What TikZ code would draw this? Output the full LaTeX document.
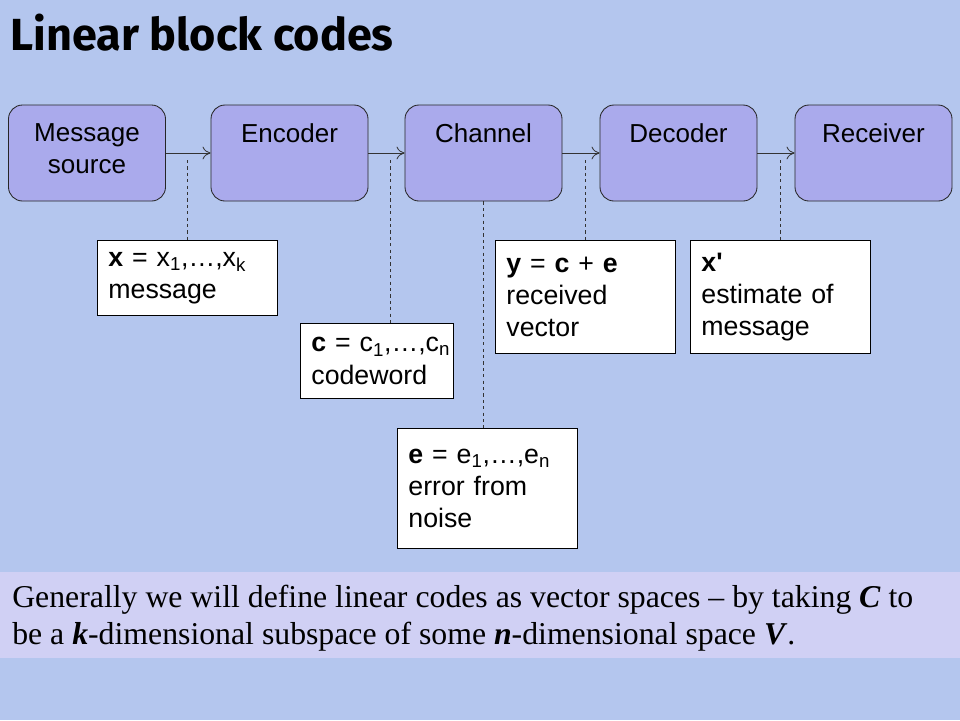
\documentclass[tikz,border=0pt]{standalone}
\usepackage{fontspec}
\setmainfont{Liberation Sans}
\newfontfamily\slideserif{Liberation Serif}
\newfontfamily\slidetitle{Fira Sans}
\usetikzlibrary{arrows.meta}
\definecolor{slidebg}{RGB}{180,198,238}
\definecolor{blockfill}{RGB}{170,170,236}
\definecolor{bandfill}{RGB}{208,208,244}

\begin{document}
\begin{tikzpicture}[x=0.25mm,y=-0.25mm,
	blockbox/.style={draw=black!85,fill=blockfill,rounded corners=3.5mm,minimum width=39.25mm,minimum height=24mm,line width=0.6pt},
	blocktext/.style={anchor=north,yshift=-4.6mm,align=center,inner sep=0pt,font=\fontsize{18.5}{22.8}\selectfont},
	notebox/.style={draw,fill=white,anchor=north west,align=left,inner xsep=2.75mm,text width=39.5mm,line width=0.6pt,font=\fontsize{19}{22.8}\selectfont},
	flow/.style={-{To[length=2mm,width=3.2mm]},draw=black!80,line width=0.6pt},
	link/.style={draw=black!80,dash pattern=on 0.8mm off 0.8mm,line width=0.5pt}]
%			\draw[step=50,red,very thin] (0,0) grid (960,720);

			\fill[slidebg](0,0) rectangle (960,720);
			\fill[bandfill](0,572) rectangle (960,658);

			\node[anchor=west,inner sep=0pt,font=\slidetitle\bfseries\fontsize{32}{38}\selectfont] (title) at(10,33) {Linear block codes};

			% the chain
			\node[blockbox,label={[blocktext]north:Message\\source}] (src) at(87,153) {};
			\node[blockbox,label={[blocktext]north:Encoder}] (enc) at(289.5,153) {};
			\node[blockbox,label={[blocktext]north:Channel}] (chan) at(483.5,153) {};
			\node[blockbox,label={[blocktext]north:Decoder}] (dec) at(678.5,153) {};
			\node[blockbox,label={[blocktext]north:Receiver}] (rcv) at(873.5,153) {};

			\draw[flow](src)--(enc);
			\draw[flow](enc)--(chan);
			\draw[flow](chan)--(dec);
			\draw[flow](dec)--(rcv);

			% notes
			\node[notebox,minimum height=18.75mm] (xnote) at(97,240) {\textbf{x} = x\textsubscript{1},\ldots,x\textsubscript{k}\\message};
			\node[notebox,text width=32.75mm,minimum height=18.75mm] (cnote) at(300,323) {\mbox{\textbf{c} = c\textsubscript{1},\ldots,c\textsubscript{n}}\\codeword};
			\node[notebox,minimum height=30mm] (enote) at(397,428) {\textbf{e} = e\textsubscript{1},\ldots,e\textsubscript{n}\\error from\\noise\\[1.5mm]};
			\node[notebox,minimum height=28.25mm] (ynote) at(495,240) {\textbf{y} = \textbf{c} + \textbf{e}\\received\\vector};
			\node[notebox,minimum height=28.25mm] (xpnote) at(690,240) {\textbf{x\textquotesingle}\\estimate of\\message};

			\coordinate (xtap) at(187,160);
			\coordinate (ctap) at(390,160);
			\coordinate (ytap) at(585,160);
			\coordinate (xptap) at(780,160);

			\draw[link](xtap)--(xtap |- xnote.north);
			\draw[link](ctap)--(ctap |- cnote.north);
			\draw[link](chan.south)--(chan.south |- enote.north);
			\draw[link](ytap)--(ytap |- ynote.north);
			\draw[link](xptap)--(xptap |- xpnote.north);

			\node[anchor=west,align=left,inner sep=0pt,font=\slideserif\fontsize{22.6}{26.3}\selectfont] (remark) at(12,618) {Generally we will define linear codes as vector spaces – by taking \textbf{\textit{C}} to\\be a \textbf{\textit{k}}-dimensional subspace of some \textbf{\textit{n}}-dimensional space \textbf{\textit{V}}.};
	\end{tikzpicture}
\end{document}
